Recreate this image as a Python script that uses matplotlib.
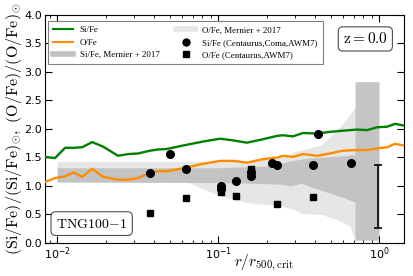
import matplotlib
matplotlib.use("Agg")
import matplotlib.pyplot as plt
import numpy as np
from matplotlib.lines import Line2D

plt.rcParams['mathtext.fontset'] = 'cm'

# simulation profiles (TNG100-1, z=0)
r_sim = [0.0084, 0.0097, 0.0112, 0.0126, 0.0143, 0.0165, 0.0193, 0.0239, 0.0276, 0.0318,
         0.0378, 0.0424, 0.0482, 0.0606, 0.0807, 0.103, 0.124, 0.151, 0.190, 0.233,
         0.254, 0.292, 0.337, 0.412, 0.496, 0.597, 0.730, 0.842, 0.972, 1.122, 1.256, 1.430]
si_fe = [1.51, 1.49, 1.67, 1.67, 1.68, 1.77, 1.69, 1.53, 1.56, 1.57,
         1.62, 1.64, 1.65, 1.71, 1.78, 1.83, 1.80, 1.76, 1.82, 1.88,
         1.89, 1.87, 1.93, 1.92, 1.95, 1.97, 1.99, 1.98, 2.03, 2.04, 2.09, 2.06]
o_fe = [1.07, 1.14, 1.17, 1.24, 1.16, 1.30, 1.16, 1.11, 1.11, 1.14,
        1.23, 1.26, 1.26, 1.31, 1.39, 1.44, 1.44, 1.41, 1.47, 1.50,
        1.53, 1.51, 1.56, 1.53, 1.57, 1.62, 1.63, 1.63, 1.66, 1.68, 1.74, 1.71]

# Mernier+2017 bands
r_mer_o = [0.01, 0.04, 0.065, 0.08, 0.108, 0.158, 0.24, 0.30, 0.33, 0.44, 0.56, 0.66, 0.71, 1.0]
o_mer_lo = [1.07, 1.07, 1.07, 0.95, 0.81, 0.70, 0.66, 0.58, 0.52, 0.50, 0.40, 0.29, 0.05, 0.05]
o_mer_hi = [1.43, 1.43, 1.43, 1.43, 1.43, 1.45, 1.50, 1.60, 1.63, 1.72, 2.01, 2.25, 2.39, 1.78]

r_mer_si = [0.01, 0.1, 0.2, 0.25, 0.28, 0.33, 0.37, 0.60, 0.66, 0.71, 0.71, 1.0]
si_mer_lo = [1.07, 1.06, 1.04, 1.03, 1.00, 1.05, 0.99, 0.80, 0.75, 0.72, 0.05, 0.05]
si_mer_hi = [1.32, 1.32, 1.35, 1.40, 1.44, 1.47, 1.49, 1.53, 1.54, 1.55, 2.83, 2.83]

# observations
r_obs_si = [0.038, 0.050, 0.063, 0.105, 0.105, 0.130, 0.160, 0.160, 0.216, 0.233, 0.387, 0.420, 0.670]
obs_si = [1.22, 1.56, 1.29, 1.00, 0.95, 1.09, 1.24, 1.17, 1.40, 1.37, 1.36, 1.92, 1.40]
r_obs_o = [0.038, 0.063, 0.104, 0.130, 0.160, 0.234, 0.387]
obs_o = [0.52, 0.79, 0.89, 0.82, 1.30, 0.68, 0.81]

# typical error
r_err = 0.99
err_mid = 0.815
err_half = 0.555

fig = plt.figure(figsize=(4.14, 2.76), dpi=100)
ax = fig.add_axes([0.1087, 0.1196, 0.8671, 0.8261])

c_light = '#e6e6e6'
c_mid = '#c2c2c2'
ax.fill_between(r_mer_o, o_mer_lo, o_mer_hi, color=c_light, lw=0, zorder=0)
ax.fill_between(r_mer_si, si_mer_lo, si_mer_hi, color=c_mid, lw=0, alpha=0.95, zorder=1)

ax.plot(r_sim, si_fe, color='green', lw=1.7, zorder=3)
ax.plot(r_sim, o_fe, color='darkorange', lw=1.7, zorder=3)

ax.plot(r_obs_si, obs_si, 'o', color='black', ms=5.5, zorder=4)
ax.plot(r_obs_o, obs_o, 's', color='black', ms=5, zorder=4)

ax.errorbar([r_err], [err_mid], yerr=[err_half], fmt='none', ecolor='black',
            elinewidth=1.2, capsize=3, capthick=1.2, zorder=4)

ax.set_xscale('log')
ax.set_xlim(0.0084, 1.43)
ax.set_ylim(0, 4)
ax.set_yticks(np.arange(0, 4.01, 0.5))
ax.tick_params(which='both', direction='in', top=True, right=True, labelsize=8, pad=2)
ax.tick_params(which='major', length=5)
ax.tick_params(which='minor', length=2.5)

ax.set_ylabel(r'$\rm (Si/Fe)/(Si/Fe)_{\odot},\ (O/Fe)/(O/Fe)_{\odot}$', fontsize=11.5, labelpad=0)
ax.set_xlabel(r'$r/r_{\rm 500,crit}$', fontsize=11)
ax.xaxis.set_label_coords(0.61, -0.045)

handles = [
    Line2D([], [], color='green', lw=1.5),
    Line2D([], [], color='darkorange', lw=1.5),
    Line2D([], [], color=c_mid, lw=4),
    Line2D([], [], color=c_light, lw=4),
    Line2D([], [], marker='o', color='black', ls='none', ms=5),
    Line2D([], [], marker='s', color='black', ls='none', ms=4.5),
]
labels = ['Si/Fe', 'O/Fe', 'Si/Fe, Mernier + 2017', 'O/Fe, Mernier + 2017',
          'Si/Fe (Centaurus,Coma,AWM7)', 'O/Fe (Centaurus,AWM7)']
leg = ax.legend(handles, labels, ncol=2, loc='upper left', bbox_to_anchor=(0.008, 0.974),
                borderaxespad=0, fancybox=False, framealpha=1, edgecolor='0.5',
                prop={'family': 'Liberation Serif', 'size': 6.4}, handlelength=2.2,
                columnspacing=1.8, labelspacing=0.45, borderpad=0.6)
leg.get_frame().set_linewidth(0.8)

ax.text(0.955, 0.895, r'$\mathrm{z=0.0}$', transform=ax.transAxes, fontsize=11,
        ha='right', va='center',
        bbox=dict(boxstyle='round,pad=0.3', fc='white', ec='0.3', lw=0.8))
ax.text(0.13, 0.085, r'$\mathrm{TNG100\!-\!1}$', transform=ax.transAxes, fontsize=10,
        ha='center', va='center',
        bbox=dict(boxstyle='round,pad=0.35', fc='white', ec='0.3', lw=0.8))

fig.savefig('out.png', dpi=100)
